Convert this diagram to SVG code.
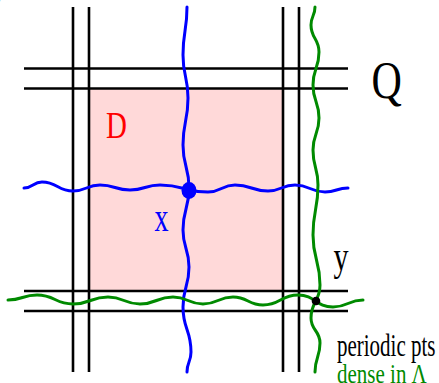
<svg xmlns="http://www.w3.org/2000/svg" width="439" height="383" viewBox="0 0 439 383">
<style>
.blk{stroke:#000;stroke-width:2.6;fill:none}
.blu{stroke:#0000ff;stroke-width:3;fill:none;stroke-linecap:round}
.grn{stroke:#008a00;stroke-width:3;fill:none;stroke-linecap:round}
text{font-family:"Liberation Serif","Times New Roman",serif}
</style>
<rect x="0" y="0" width="439" height="383" fill="#fff"/>
<g id="region-D">
<rect x="89" y="88" width="194" height="203" fill="#ffd9d9"/>
<text transform="translate(106,138) scale(1,1.3)" font-size="29" fill="#ff0000">D</text>
</g>
<g id="connectors">
<g id="grid">
<line class="blk" x1="73" y1="7" x2="73" y2="372"/>
<line class="blk" x1="89" y1="7" x2="89" y2="372"/>
<line class="blk" x1="283" y1="7" x2="283" y2="372"/>
<line class="blk" x1="299" y1="7" x2="299" y2="372"/>
<line class="blk" x1="24" y1="68.5" x2="348" y2="68.5"/>
<line class="blk" x1="24" y1="88.5" x2="348" y2="88.5"/>
<line class="blk" x1="24" y1="291" x2="348" y2="291"/>
<line class="blk" x1="24" y1="311" x2="348" y2="311"/>
</g>
<path id="blue-h" class="blu" d="M24,188 C33,188 33,182 42,182 C57.5,182 57.5,191 73,191 C86.5,191 86.5,185 100,185 C115,185 115,190 130,190 C145,190 145,185 160,185 C184,185 184,192 208,192 C221.5,192 221.5,185 235,185 C251.5,185 251.5,191 268,191 C281.5,191 281.5,185 295,185 C310,185 310,192 325,192 C336.5,192 336.5,188 348,188"/>
<path id="blue-v" class="blu" d="M187,7 C187,31 183,31 183,55 C183,76.5 188,76.5 188,98 C188,121.5 183,121.5 183,145 C183,166.5 189,166.5 189,188 C189,209 183,209 183,230 C183,248.5 189,248.5 189,267 C189,287 183,287 183,307 C183,329.5 191,329.5 191,352 C191,362 187,362 187,372"/>
<path id="green-h" class="grn" d="M8,300 C22.5,300 22.5,295 37,295 C55,295 55,304 73,304 C90.5,304 90.5,297 108,297 C124,297 124,304 140,304 C156.5,304 156.5,297 173,297 C188,297 188,304 203,304 C218,304 218,297 233,297 C248,297 248,305 263,305 C280.5,305 280.5,295 298,295 C315.5,295 315.5,307 333,307 C348,307 348,300 363,300"/>
<path id="green-v" class="grn" d="M315,7 C315,16 311,16 311,25 C311,38.5 319,38.5 319,52 C319,68.5 313,68.5 313,85 C313,101.5 319,101.5 319,118 C319,134 313,134 313,150 C313,167.5 318,167.5 318,185 C318,210 313,210 313,235 C313,260 320,260 320,285 C320,301.5 311,301.5 311,318 C311,330.5 320,330.5 320,343 C320,357.5 315,357.5 315,372"/>
</g>
<g id="point-x">
<ellipse cx="189" cy="190.5" rx="7.5" ry="8.5" fill="#0000ff"/>
<text transform="translate(154.5,231) scale(1,1.5)" font-size="28" fill="#0000ff">x</text>
</g>
<g id="point-y">
<circle cx="316" cy="301" r="4.3" fill="#000"/>
<text transform="translate(333.5,270) scale(1,1.35)" font-size="30" fill="#000">y</text>
</g>
<g id="label-Q">
<text transform="translate(371.5,98) scale(1,1.27)" font-size="42" fill="#000">Q</text>
</g>
<g id="label-periodic">
<text transform="translate(337,355.5) scale(1,1.5)" font-size="21" fill="#000">periodic pts</text>
<text transform="translate(337,382.5) scale(1,1.35)" font-size="21" fill="#008a00">dense in Λ</text>
</g>
<g id="corner-mark">
<text transform="translate(-7,2) scale(1,1.3)" font-size="26" fill="#000">)</text>
</g>
</svg>
